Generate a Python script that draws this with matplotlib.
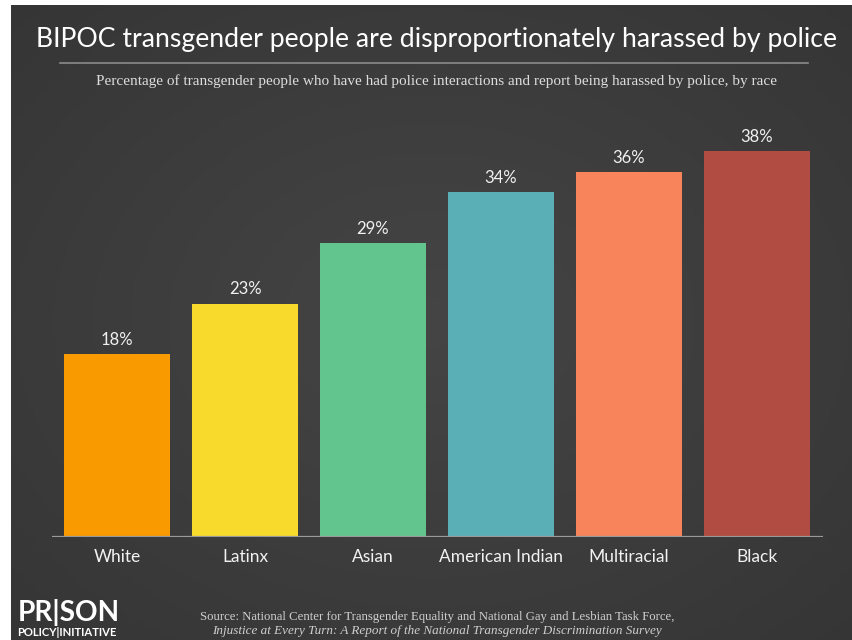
import matplotlib.pyplot as plt
import numpy as np

# data
categories = ['White', 'Latinx', 'Asian', 'American Indian', 'Multiracial', 'Black']
values = [18, 23, 29, 34, 36, 38]
bar_colors = ['#F99A00', '#F7DA2B', '#63C58E', '#5AAEB5', '#F7845B', '#B04C42']

title = 'BIPOC transgender people are disproportionately harassed by police'
subtitle = ('Percentage of transgender people who have had police interactions '
            'and report being harassed by police, by race')
source1 = 'Source: National Center for Transgender Equality and National Gay and Lesbian Task Force,'
source2 = 'Injustice at Every Turn: A Report of the National Transgender Discrimination Survey'

W, H = 853, 640
fig = plt.figure(figsize=(W / 100, H / 100), dpi=100, facecolor='white')

# dark background with a soft vignette
bg = fig.add_axes([11 / W, 0, (W - 11) / W, (H - 5) / H])
yy, xx = np.mgrid[-1:1:200j, -1:1:260j]
r = np.sqrt(xx ** 2 + yy ** 2)
shade = 0.27 - 0.06 * np.clip(r, 0, 1.4) / 1.4
bg.imshow(np.dstack([shade] * 3), aspect='auto', extent=[0, 1, 0, 1])
bg.set_axis_off()

# bar chart axes
ax = fig.add_axes([52 / W, (H - 537) / H, 771 / W, 406 / H])
ax.patch.set_alpha(0)
x = np.arange(len(categories))
ax.bar(x, values, width=0.83, color=bar_colors, zorder=2)
ax.set_xlim(-0.508, 5.516)
ax.set_ylim(0, 40)
ax.axhline(0, color='#9a9a9a', lw=1.6, zorder=3)
for xi, v in zip(x, values):
    ax.text(xi, v + 0.6, f'{v}%', ha='center', va='bottom', color='#f0f0f0',
            fontsize=12, family='Lato')
ax.set_xticks(x)
ax.set_xticklabels(categories, color='#f2f2f2', fontsize=12.5, family='Lato')
ax.tick_params(axis='x', length=0, pad=9)
ax.set_yticks([])
for s in ax.spines.values():
    s.set_visible(False)

renderer = fig.canvas.get_renderer()


def fit_text(xc, yc, s, width_px, **kw):
    t = fig.text(xc / W, 1 - yc / H, s, ha='center', va='center', **kw)
    w = t.get_window_extent(renderer).width
    t.set_fontsize(t.get_fontsize() * width_px / w)
    return t


fit_text(437, 40, title, 803, color='white', fontsize=20, family='Lato')
fig.add_artist(plt.Line2D([60 / W, 808 / W], [1 - 63 / H] * 2, color='#8a8a8a', lw=1.2))
fit_text(437, 81, subtitle, 679, color='#dddddd', fontsize=10, family='Liberation Serif')
fit_text(437, 617, source1, 477, color='#cfcfcf', fontsize=9, family='Liberation Serif')
fit_text(437, 631, source2, 450, color='#cfcfcf', fontsize=9, family='Liberation Serif',
         style='italic')

# logo
fit_text(69, 612, 'PR|SON', 102, color='white', fontsize=20, family='Lato', weight='bold')
fit_text(67, 632, 'POLICY|INITIATIVE', 100, color='white', fontsize=7, family='Lato',
         weight='bold')

fig.savefig('out.png', dpi=100, facecolor='white')
